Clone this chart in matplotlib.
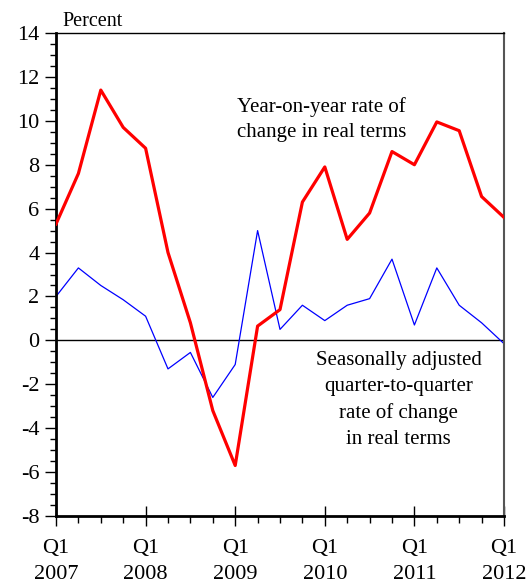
import numpy as np
import matplotlib.pyplot as plt
from matplotlib.ticker import MultipleLocator

plt.rcParams['font.family'] = ['Liberation Serif', 'DejaVu Serif']

# quarterly data, 2007 Q1 .. 2012 Q1
yoy = [5.3, 7.6, 11.4, 9.7, 8.75, 4.0, 0.8, -3.2, -5.7, 0.65, 1.4,
       6.3, 7.9, 4.6, 5.8, 8.6, 8.0, 9.95, 9.55, 6.55, 5.6]
qoq = [2.0, 3.3, 2.5, 1.85, 1.1, -1.3, -0.55, -2.6, -1.1, 5.0, 0.5,
       1.6, 0.9, 1.6, 1.9, 3.7, 0.7, 3.3, 1.6, 0.8, -0.15]
years = ['2007', '2008', '2009', '2010', '2011', '2012']

x = np.arange(len(yoy))

fig = plt.figure(figsize=(5.28, 5.85), dpi=100)
ax = fig.add_axes([56/528, 69/585, 448/528, 483/585])

ax.axhline(0, color='black', lw=1.0, zorder=1)
ax.plot(x, qoq, color='#0000ff', lw=0.9, zorder=2)
ax.plot(x, yoy, color='#ff0000', lw=2.3, zorder=3)

ax.set_xlim(0, 20)
ax.set_ylim(-8, 14)

ax.set_xticks(np.arange(0, 21, 4))
ax.set_xticklabels(['Q1\n' + y for y in years], fontsize=16, linespacing=1.5)
ax.xaxis.set_minor_locator(MultipleLocator(1))
ax.tick_params(axis='x', which='major', direction='inout', length=15, width=1.0, pad=9)
ax.tick_params(axis='x', which='minor', direction='out', length=5, width=1.0)

ax.set_yticks(np.arange(-8, 15, 2))
ax.set_yticklabels([str(v) for v in range(-8, 15, 2)], fontsize=16)
ax.yaxis.set_minor_locator(MultipleLocator(0.5))
ax.tick_params(axis='y', which='major', direction='out', length=8, width=1.0, pad=4)
ax.tick_params(axis='y', which='minor', direction='out', length=4, width=1.0)

ax.spines['left'].set_linewidth(2.0)
ax.spines['bottom'].set_linewidth(2.0)
ax.spines['top'].set_linewidth(1.0)
ax.spines['right'].set_linewidth(1.5)
ax.spines['right'].set_color('#555555')

ax.text(0.015, 1.005, 'Percent', transform=ax.transAxes, fontsize=14.5,
        ha='left', va='bottom')

ax.text(11.85, 10.05, 'Year-on-year rate of\nchange in real terms', fontsize=15,
        ha='center', va='center', linespacing=1.45)
ax.text(15.3, -2.72, 'Seasonally adjusted\nquarter-to-quarter\nrate of change\nin real terms',
        fontsize=15, ha='center', va='center', linespacing=1.5)

fig.savefig('out.png', dpi=100)
